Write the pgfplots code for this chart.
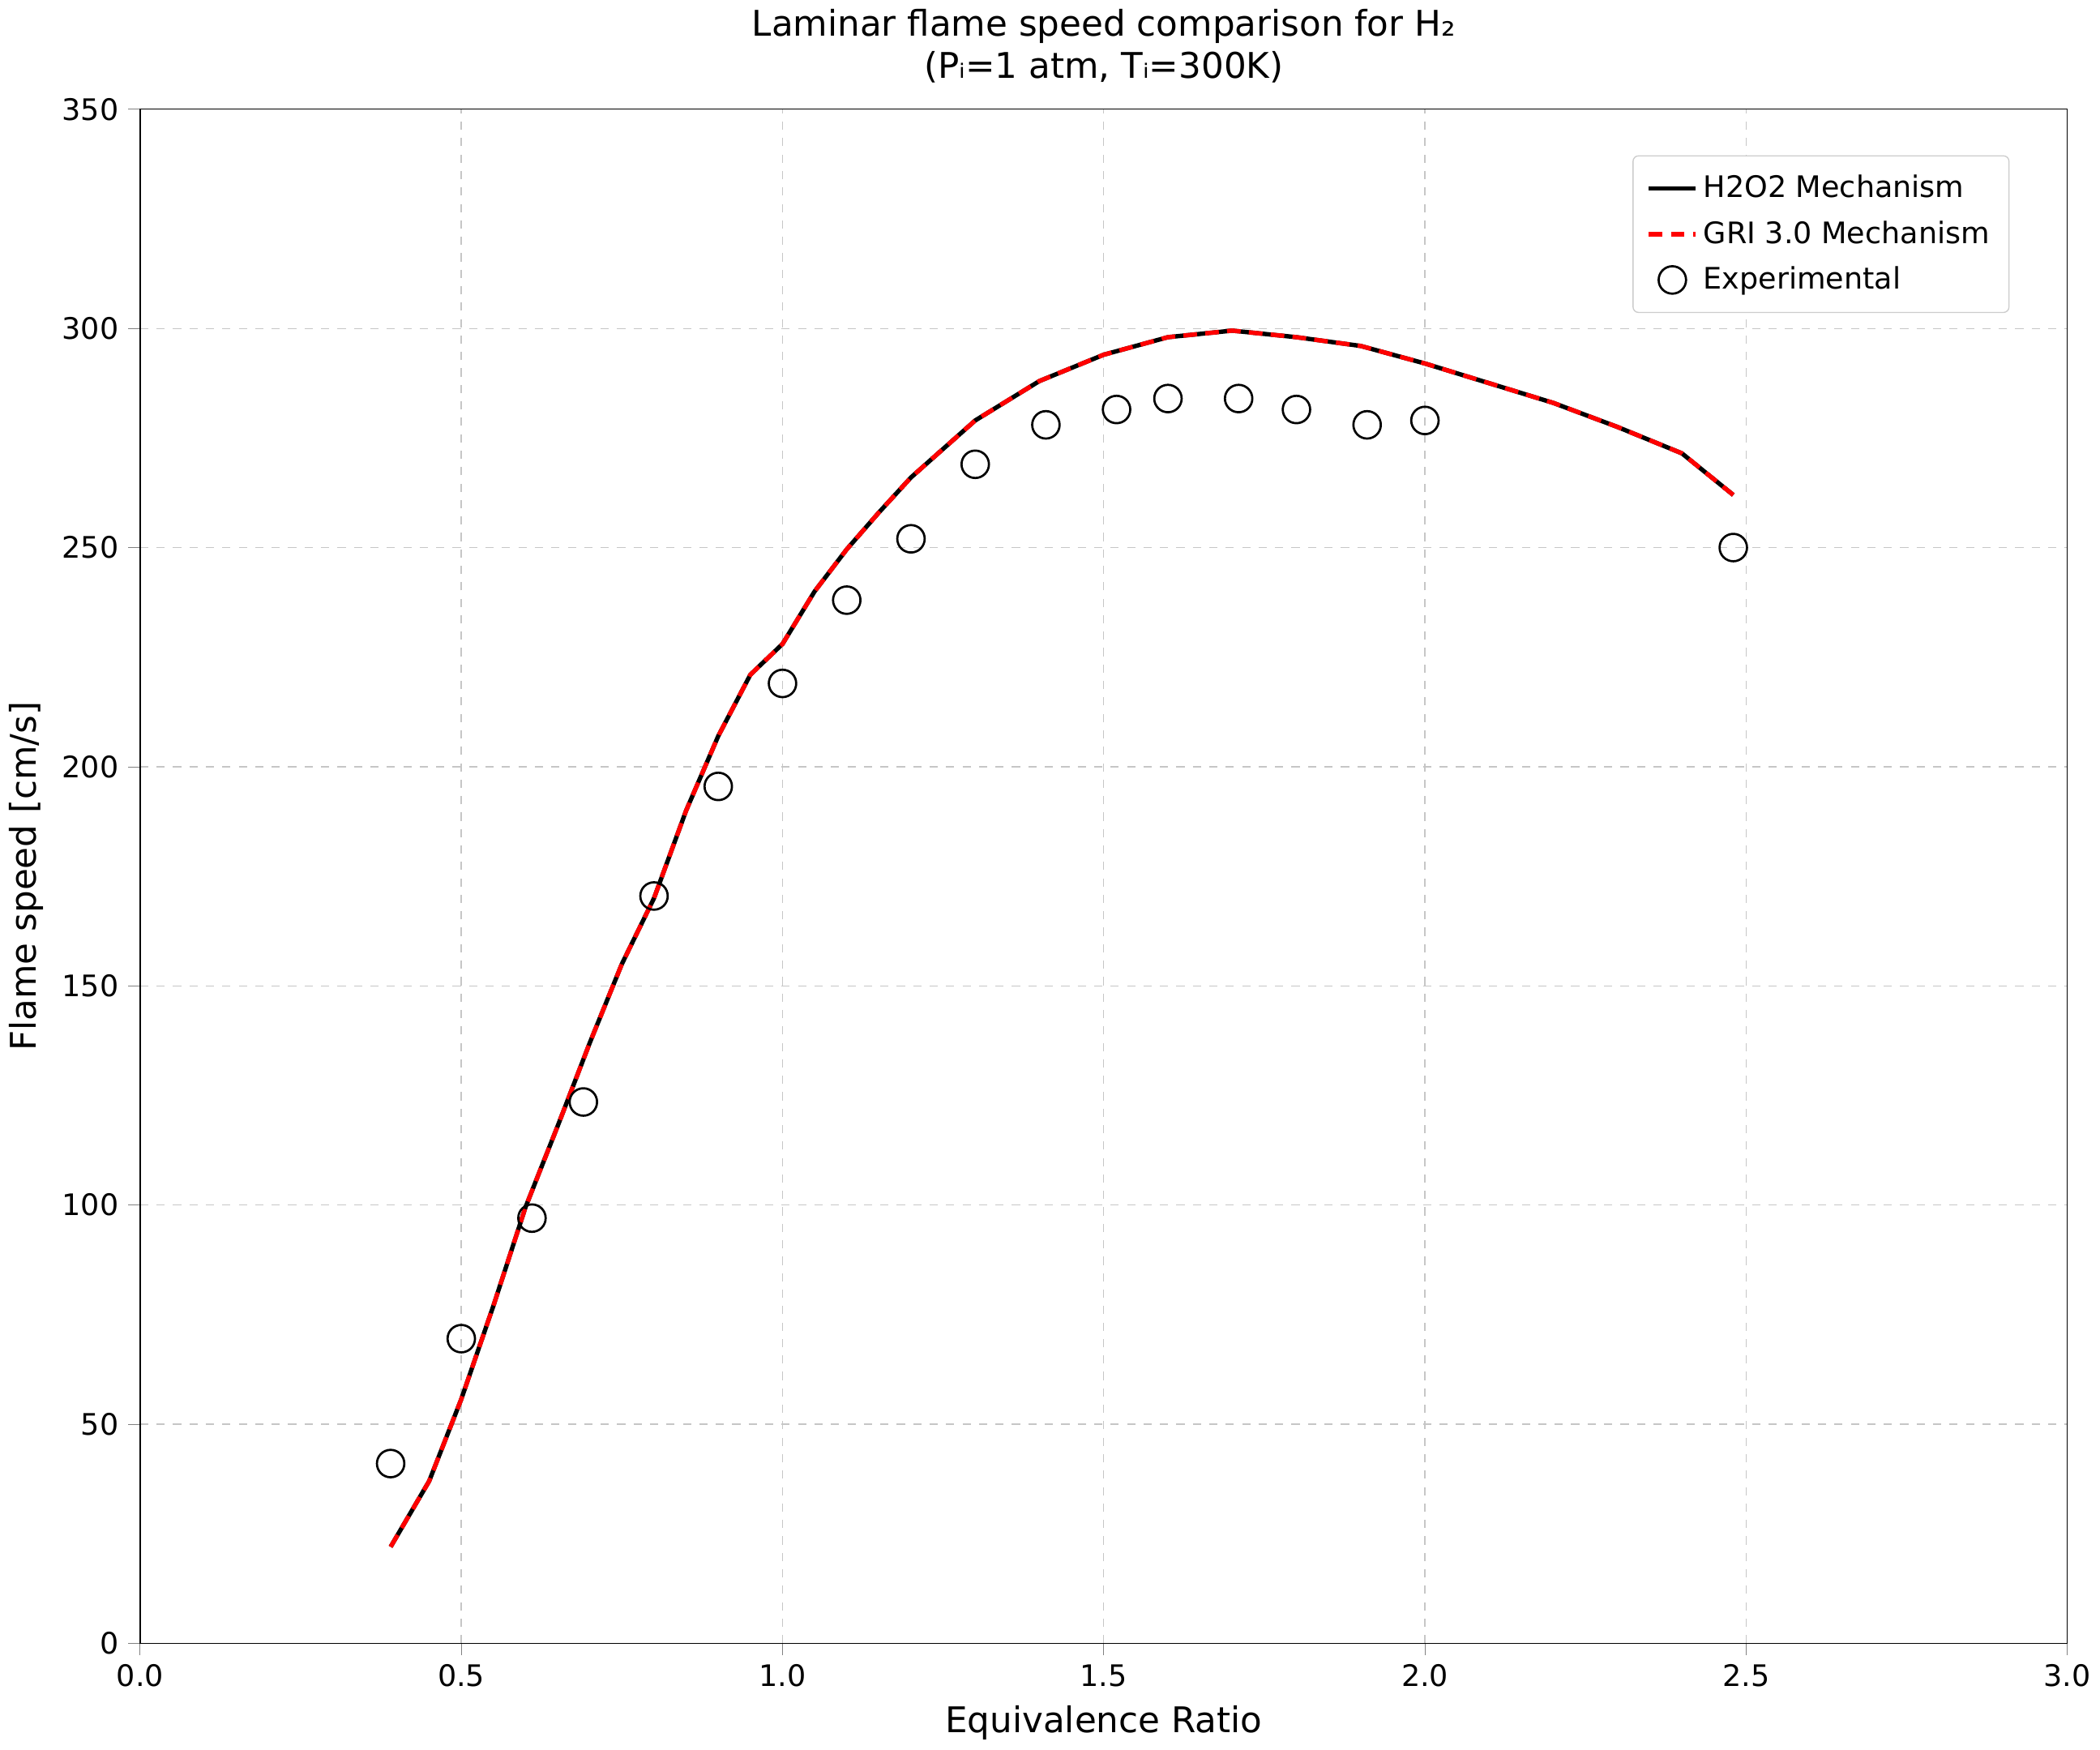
\documentclass[border=0pt]{standalone}
\usepackage{pgfplots}
\pgfplotsset{compat=1.18}
\usepackage{fontspec}
\setmainfont{DejaVu Sans}
\begin{document}
\begin{tikzpicture}
\begin{axis}[
  width=703pt, height=559.5pt, scale only axis,
  xmin=0, xmax=3, ymin=0, ymax=350,
  xtick={0,0.5,...,3}, ytick={0,50,...,350},
  xticklabel style={/pgf/number format/.cd,fixed,fixed zerofill,precision=1},
  /pgf/number format/assume math mode=true,
  tick label style={font=\fontsize{10.8}{13}\selectfont},
  label style={font=\fontsize{12.9}{15}\selectfont},
  xlabel={Equivalence Ratio}, ylabel={Flame speed [cm/s]},
  title={Laminar flame speed comparison for H₂\\(Pᵢ=1 atm, Tᵢ=300K)},
  title style={font=\fontsize{12.9}{15.5}\selectfont, align=center},
  grid=major, grid style={dashed, gray!45},
  tick align=outside, tick pos=left,
  legend pos=north east,
  legend style={font=\fontsize{10.8}{13}\selectfont, draw=gray!40, rounded corners=2pt, row sep=3pt, inner sep=5pt},
  legend cell align=left,
]
\addplot[black, line width=1.6pt] coordinates {(0.39,22)(0.45,37)(0.5,55.7)(0.55,77)(0.6,99.5)(0.65,118)(0.7,137)(0.75,155)(0.8,170)(0.85,190)(0.9,207)(0.95,221)(1.0,228)(1.05,240)(1.1,249.6)(1.15,258)(1.2,266)(1.3,279)(1.4,288)(1.5,294)(1.6,298)(1.7,299.5)(1.8,298)(1.9,296)(2.0,292)(2.1,287.5)(2.2,283)(2.3,277.5)(2.4,271.5)(2.48,262)};
\addlegendentry{H2O2 Mechanism}
\addplot[red, line width=1.6pt, dash pattern=on 5pt off 3pt] coordinates {(0.39,22)(0.45,37)(0.5,55.7)(0.55,77)(0.6,99.5)(0.65,118)(0.7,137)(0.75,155)(0.8,170)(0.85,190)(0.9,207)(0.95,221)(1.0,228)(1.05,240)(1.1,249.6)(1.15,258)(1.2,266)(1.3,279)(1.4,288)(1.5,294)(1.6,298)(1.7,299.5)(1.8,298)(1.9,296)(2.0,292)(2.1,287.5)(2.2,283)(2.3,277.5)(2.4,271.5)(2.48,262)};
\addlegendentry{GRI 3.0 Mechanism}
\addplot[only marks, mark=o, mark size=5pt, black, thick] coordinates {(0.39,41)(0.5,69.5)(0.61,97)(0.69,123.5)(0.8,170.5)(0.9,195.5)(1.0,219)(1.1,238)(1.2,252)(1.3,269)(1.41,278)(1.52,281.5)(1.6,284)(1.71,284)(1.8,281.5)(1.91,278)(2.0,279)(2.48,250)};
\addlegendentry{Experimental}
\end{axis}
\end{tikzpicture}
\end{document}
